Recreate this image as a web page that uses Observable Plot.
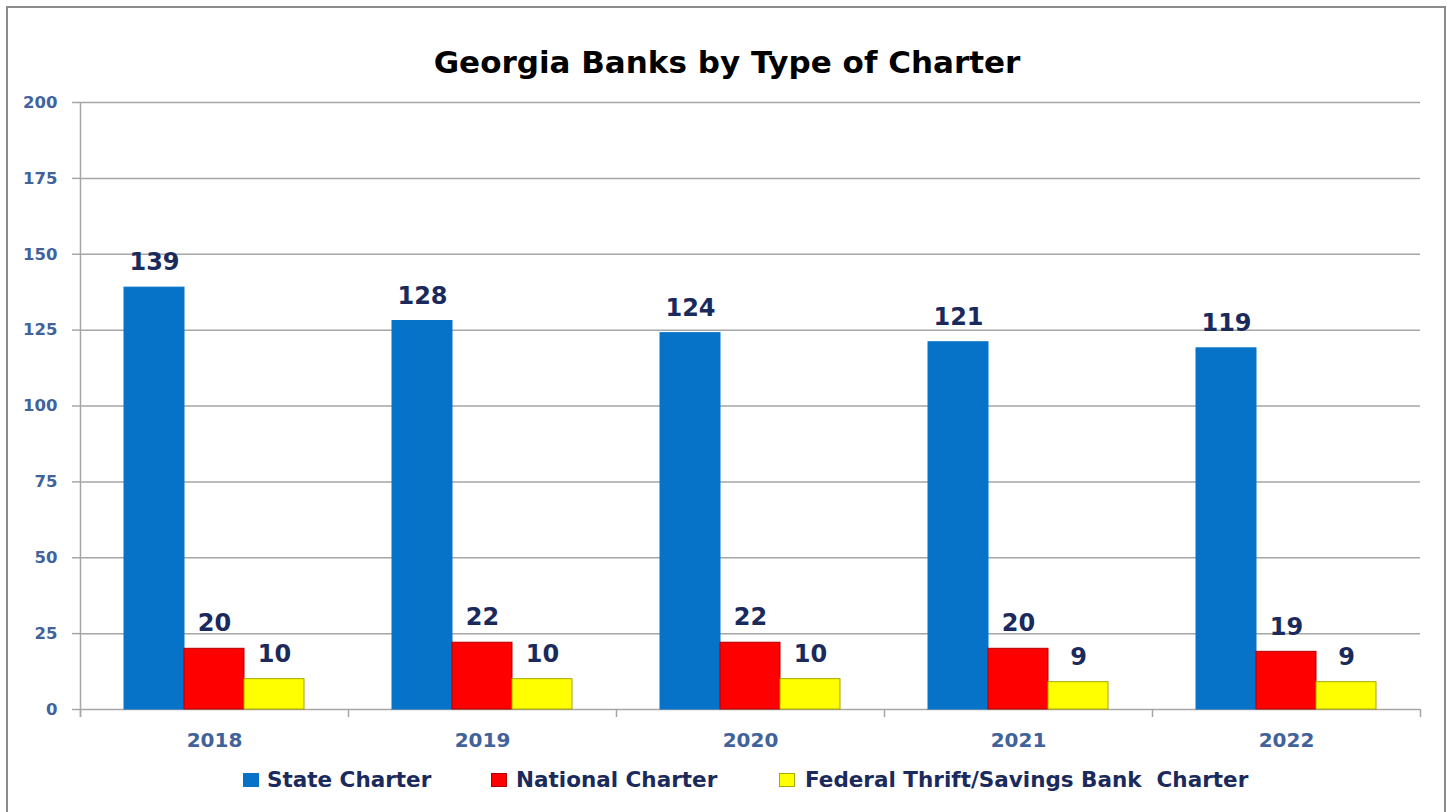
<!DOCTYPE html>
<html>
<head>
<meta charset="utf-8">
<script src="https://cdn.jsdelivr.net/npm/d3@7"></script>
<script src="https://cdn.jsdelivr.net/npm/@observablehq/plot@0.6"></script>
<style>
  html, body { margin: 0; padding: 0; background: #fff; width: 1447px; height: 812px; overflow: hidden; }
  body { position: relative; font-family: "DejaVu Sans", sans-serif; }
  #frame { position: absolute; left: 6px; top: 6px; width: 1440px; height: 840px; border: 2px solid #8c8c8c; box-sizing: border-box; }
  #title { position: absolute; top: 43px; left: 7px; width: 1440px; text-align: center; font-size: 31px; font-weight: bold; line-height: 38px; color: #000; }
  #chart { position: absolute; left: 0; top: 80px; }
  #legend { position: absolute; top: 767px; left: 0; width: 1447px; height: 26px; }
  .item { position: absolute; top: 0; height: 26px; line-height: 26px; font-size: 21.5px; font-weight: bold; color: #1b2a5c; white-space: pre; }
  .sw { position: absolute; top: 6px; width: 16px; height: 14px; box-sizing: border-box; }
</style>
</head>
<body>
<div id="frame"></div>
<div id="title">Georgia Banks by Type of Charter</div>
<div id="chart"></div>
<div id="legend"></div>
<script>
const years = ["2018", "2019", "2020", "2021", "2022"];
const series = ["State Charter", "National Charter", "Federal Thrift/Savings Bank  Charter"];
const stateValues = [139, 128, 124, 121, 119];
const nationalValues = [20, 22, 22, 20, 19];
const federalValues = [10, 10, 10, 9, 9];
const yTicks = [0, 25, 50, 75, 100, 125, 150, 175, 200];
const fillColors = ["#0673c8", "#ff0000", "#ffff00"];
const edgeColors = ["#0673c8", "#b00000", "#a8a800"];
const legendSwatchX = [243, 491, 779];
const legendTextX = [267, 516, 805];

const valuesBySeries = [stateValues, nationalValues, federalValues];
const data = years.flatMap((yr, i) => series.map((s, j) => ({year: yr, series: s, value: valuesBySeries[j][i], k: j})));

const navy = "#1b2a5c";
const steel = "#41629a";
const grid = "#a6a6a6";

const chart = Plot.plot({
  width: 1447,
  height: 686,
  marginLeft: 80,
  marginRight: 27,
  marginTop: 22,
  marginBottom: 57,
  style: {fontFamily: "DejaVu Sans, sans-serif", background: "transparent", overflow: "visible"},
  fx: {domain: years, padding: 0, label: null},
  x: {domain: series, paddingInner: 0, paddingOuter: 44 / 60, axis: null},
  y: {domain: [0, 200], label: null},
  color: {type: "identity"},
  marks: [
    Plot.gridY(yTicks, {stroke: grid, strokeOpacity: 1, strokeWidth: 1.5}),
    Plot.axisY(yTicks, {tickSize: 8, tickPadding: 15, stroke: grid, strokeOpacity: 1, strokeWidth: 1.5, fill: steel, fontSize: 16.5, fontWeight: "bold", label: null}),
    Plot.ruleX([years[0]], {fx: d => d, x: () => series[0], dx: -74, y1: 200, y2: 0, insetBottom: -8, stroke: grid, strokeWidth: 1.5}),
    Plot.ruleX(years, {fx: d => d, x: () => series[0], dx: -74, y1: 0, y2: 0, insetBottom: -8, stroke: grid, strokeWidth: 1.5}),
    Plot.ruleX([years[years.length - 1]], {fx: d => d, x: () => series[2], dx: 74, y1: 0, y2: 0, insetBottom: -8, stroke: grid, strokeWidth: 1.5}),
    Plot.barY(data, {fx: "year", x: "series", y: "value", fill: d => fillColors[d.k], stroke: d => edgeColors[d.k], strokeWidth: 1}),
    Plot.text(data, {fx: "year", x: "series", y: "value", text: d => String(d.value), dy: -25, fontSize: 24, fontWeight: "bold", fill: navy}),
    Plot.axisFx({anchor: "bottom", tickSize: 0, tickPadding: 23, fontSize: 20, fontWeight: "bold", fill: steel, label: null})
  ]
});
document.getElementById("chart").appendChild(chart);

const legend = document.getElementById("legend");
series.forEach((s, j) => {
  const sw = document.createElement("div");
  sw.className = "sw";
  sw.style.left = legendSwatchX[j] + "px";
  sw.style.background = fillColors[j];
  sw.style.border = "1px solid " + edgeColors[j];
  legend.appendChild(sw);
  const t = document.createElement("div");
  t.className = "item";
  t.style.left = legendTextX[j] + "px";
  t.textContent = s;
  legend.appendChild(t);
});
</script>
</body>
</html>
